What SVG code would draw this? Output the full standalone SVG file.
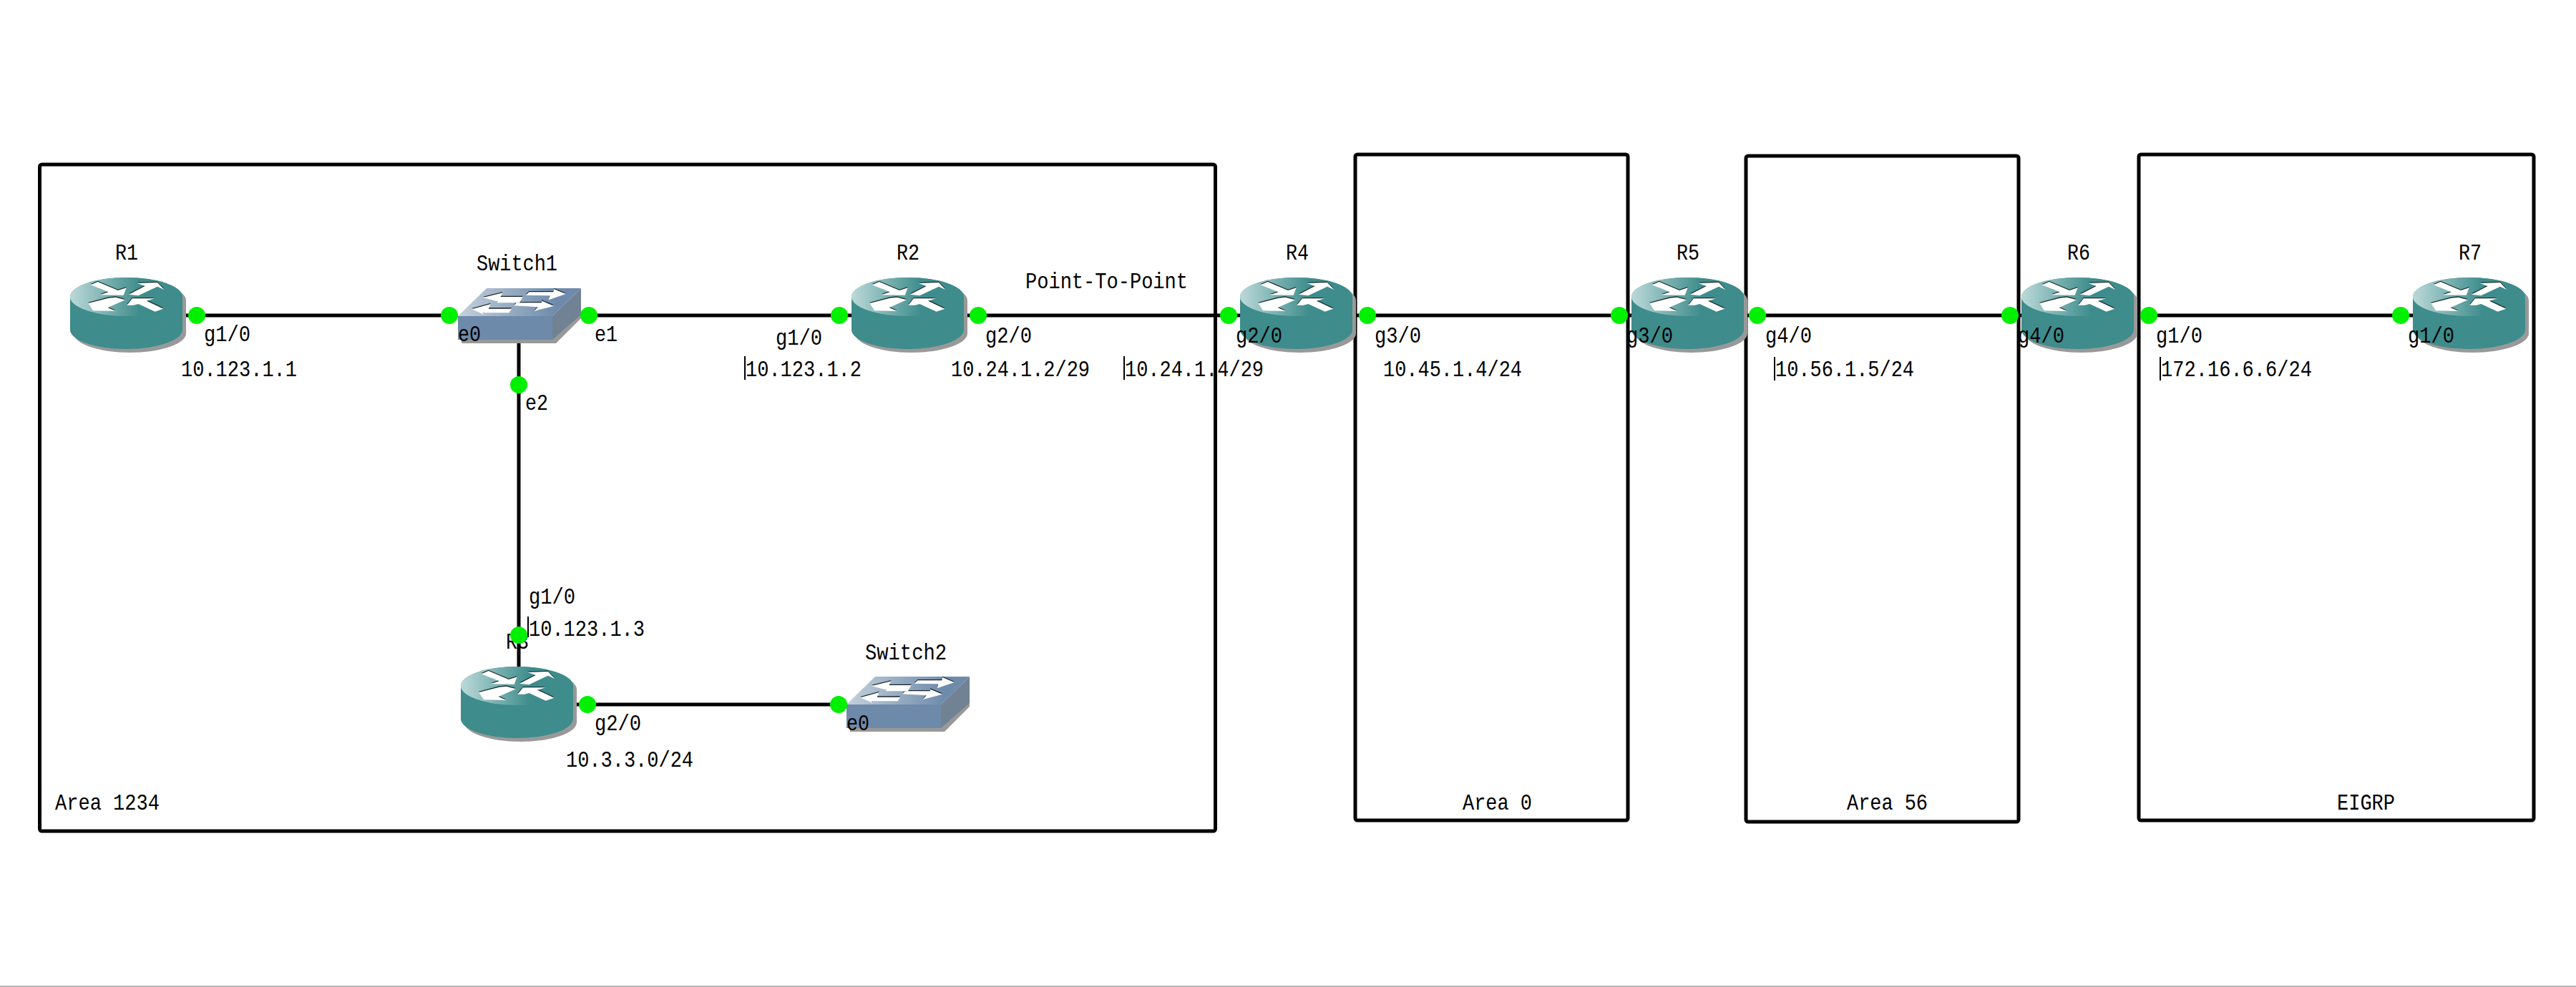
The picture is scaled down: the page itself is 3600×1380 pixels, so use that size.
<svg xmlns="http://www.w3.org/2000/svg" width="3600" height="1380" viewBox="0 0 3600 1380">
<style>
text{font-family:"Liberation Mono","Noto Sans CJK SC",monospace;font-size:32px;fill:#000}
.area{fill:none;stroke:#000;stroke-width:5}
.link{stroke:#000;stroke-width:5;fill:none}
.dot{fill:#00f000}
.bar{stroke:#000;stroke-width:2}
</style>
<defs>
<linearGradient id="rtop" x1="0" x2="1" y1="0" y2="0"><stop offset="0" stop-color="#bcd9d9"/><stop offset=".62" stop-color="#3e8c8c"/></linearGradient>
<linearGradient id="stop" x1="0" x2="1" y1="0" y2="0"><stop offset="0" stop-color="#c4d1dc"/><stop offset=".8" stop-color="#6e8bab"/></linearGradient>
<g id="rarrows">
<polygon points="140,85 170,72 255,108 290,97 278,128 180,127 215,115"/>
<polygon points="300,125 368,90 335,78 420,75 448,105 420,92 340,130"/>
<polygon points="130,162 215,140 245,137 285,148 212,180 245,195 150,193"/>
<polygon points="292,170 315,142 408,142 375,152 445,185 410,197 340,165 320,170"/>
</g>
<g id="router">
<path d="M5 32V78A78.500 27 0 0 0 162 78V32Z M5 32A78.500 27 0 0 1 162 32Z" fill="#999"/>
<path d="M0 27V73A78.500 27 0 0 0 157 73V27A78.500 27 0 0 0 0 27Z" fill="#3e8c8c"/>
<ellipse cx="78.500" cy="27" rx="78.500" ry="27" fill="url(#rtop)"/>
<g transform="translate(-18,-18) scale(.3333)">
<use href="#rarrows" fill="#1c2f2f" transform="translate(0,-4)"/>
<use href="#rarrows" fill="#fff"/>
</g>
</g>
<g id="sarrows">
<polygon points="165,108 248,88 238,105 332,105 318,130 222,130 228,125"/>
<polygon points="345,98 358,85 460,85 462,72 512,93 440,118 445,100"/>
<polygon points="118,157 197,135 188,155 285,155 275,172 165,172 170,180"/>
<polygon points="295,142 305,130 410,130 412,122 462,143 380,165 395,148"/>
</g>
<g id="switch">
<polygon points="5,43 137,43 172,37 172,42 137,77 5,77" fill="#999"/>
<polygon points="40,0 172,0 132,39 0,39" fill="url(#stop)"/>
<rect x="0" y="39" width="132" height="33" fill="#6e8aaa"/>
<polygon points="132,39 172,0 172,37 132,72" fill="#708293"/>
<g transform="translate(-20,-23) scale(.3333)">
<use href="#sarrows" fill="#1b2530" transform="translate(0,-4)"/>
<use href="#sarrows" fill="#fff"/>
</g>
</g>
</defs>
<rect width="3600" height="1380" fill="#fff"/>
<rect x="0" y="1378" width="3600" height="2" fill="#bbb"/>

<g id="areas">
<g id="area1234"><rect class="area" x="55.500" y="230" width="1643" height="932" rx="3"/><text x="77" y="1132" textLength="146" lengthAdjust="spacingAndGlyphs">Area 1234</text></g>
<g id="area0"><rect class="area" x="1894" y="216" width="381" height="931" rx="3"/><text x="2044" y="1132" textLength="97" lengthAdjust="spacingAndGlyphs">Area 0</text></g>
<g id="area56"><rect class="area" x="2440" y="218" width="381" height="931" rx="3"/><text x="2581" y="1132" textLength="113" lengthAdjust="spacingAndGlyphs">Area 56</text></g>
<g id="eigrp"><rect class="area" x="2989" y="216" width="552" height="931" rx="3"/><text x="3266" y="1132" textLength="81" lengthAdjust="spacingAndGlyphs">EIGRP</text></g>
</g>

<g id="connectors">
<path class="link" d="M255 441H640"/>
<path class="link" d="M812 441H1190"/>
<path class="link" d="M725 475V932"/>
<path class="link" d="M801 985H1183"/>
<path class="link" d="M1347 441H1733"/>
<path class="link" d="M1891 441H2280"/>
<path class="link" d="M2437 441H2825"/>
<path class="link" d="M2983 441H3372"/>
</g>

<g id="R1"><use href="#router" x="98" y="388"/><text x="161" y="363" textLength="32" lengthAdjust="spacingAndGlyphs">R1</text></g>
<g id="Switch1"><use href="#switch" x="640" y="403"/><text x="666" y="378" textLength="113" lengthAdjust="spacingAndGlyphs">Switch1</text></g>
<g id="R2"><use href="#router" x="1190" y="388"/><text x="1253" y="363" textLength="32" lengthAdjust="spacingAndGlyphs">R2</text></g>
<g id="R3"><use href="#router" x="644" y="932"/><text x="707" y="907" textLength="32" lengthAdjust="spacingAndGlyphs">R3</text></g>
<g id="Switch2"><use href="#switch" x="1183" y="946"/><text x="1209" y="922" textLength="114" lengthAdjust="spacingAndGlyphs">Switch2</text></g>
<g id="R4"><use href="#router" x="1733" y="388"/><text x="1797" y="363" textLength="32" lengthAdjust="spacingAndGlyphs">R4</text></g>
<g id="R5"><use href="#router" x="2280" y="388"/><text x="2343" y="363" textLength="32" lengthAdjust="spacingAndGlyphs">R5</text></g>
<g id="R6"><use href="#router" x="2825" y="388"/><text x="2889" y="363" textLength="32" lengthAdjust="spacingAndGlyphs">R6</text></g>
<g id="R7"><use href="#router" x="3372" y="388"/><text x="3436" y="363" textLength="32" lengthAdjust="spacingAndGlyphs">R7</text></g>

<g id="ports">
<circle class="dot" cx="275" cy="441" r="12"/><circle class="dot" cx="628" cy="441" r="12"/><circle class="dot" cx="823" cy="441" r="12"/><circle class="dot" cx="725" cy="538" r="12"/>
<circle class="dot" cx="725" cy="888" r="12"/><circle class="dot" cx="821" cy="985" r="12"/><circle class="dot" cx="1172" cy="985" r="12"/>
<circle class="dot" cx="1173" cy="441" r="12"/><circle class="dot" cx="1367" cy="441" r="12"/><circle class="dot" cx="1717" cy="441" r="12"/><circle class="dot" cx="1911" cy="441" r="12"/>
<circle class="dot" cx="2263" cy="441" r="12"/><circle class="dot" cx="2456" cy="441" r="12"/><circle class="dot" cx="2809" cy="441" r="12"/><circle class="dot" cx="3003" cy="441" r="12"/><circle class="dot" cx="3355" cy="441" r="12"/>
</g>

<g id="labels">
<text x="285" y="477" textLength="65" lengthAdjust="spacingAndGlyphs">g1/0</text>
<text x="253" y="526" textLength="162" lengthAdjust="spacingAndGlyphs">10.123.1.1</text>
<text x="640" y="477" textLength="32" lengthAdjust="spacingAndGlyphs">e0</text>
<text x="831" y="477" textLength="32" lengthAdjust="spacingAndGlyphs">e1</text>
<text x="734" y="573" textLength="32" lengthAdjust="spacingAndGlyphs">e2</text>
<text x="739" y="844" textLength="65" lengthAdjust="spacingAndGlyphs">g1/0</text>
<line class="bar" x1="738" y1="862" x2="738" y2="891"/>
<text x="739" y="889" textLength="162" lengthAdjust="spacingAndGlyphs">10.123.1.3</text>
<text x="1183" y="1021" textLength="32" lengthAdjust="spacingAndGlyphs">e0</text>
<text x="831" y="1021" textLength="65" lengthAdjust="spacingAndGlyphs">g2/0</text>
<text x="791" y="1072" textLength="178" lengthAdjust="spacingAndGlyphs">10.3.3.0/24</text>
<text x="1084" y="482" textLength="65" lengthAdjust="spacingAndGlyphs">g1/0</text>
<line class="bar" x1="1041" y1="498" x2="1041" y2="531"/>
<text x="1042" y="526" textLength="162" lengthAdjust="spacingAndGlyphs">10.123.1.2</text>
<text x="1377" y="479" textLength="65" lengthAdjust="spacingAndGlyphs">g2/0</text>
<text x="1329" y="526" textLength="194" lengthAdjust="spacingAndGlyphs">10.24.1.2/29</text>
<text x="1433" y="403" textLength="227" lengthAdjust="spacingAndGlyphs">Point-To-Point</text>
<line class="bar" x1="1571" y1="498" x2="1571" y2="531"/>
<text x="1572" y="526" textLength="194" lengthAdjust="spacingAndGlyphs">10.24.1.4/29</text>
<text x="1727" y="479" textLength="65" lengthAdjust="spacingAndGlyphs">g2/0</text>
<text x="1921" y="479" textLength="65" lengthAdjust="spacingAndGlyphs">g3/0</text>
<text x="1933" y="526" textLength="194" lengthAdjust="spacingAndGlyphs">10.45.1.4/24</text>
<text x="2273" y="479" textLength="65" lengthAdjust="spacingAndGlyphs">g3/0</text>
<text x="2467" y="479" textLength="65" lengthAdjust="spacingAndGlyphs">g4/0</text>
<line class="bar" x1="2480" y1="499" x2="2480" y2="532"/>
<text x="2481" y="526" textLength="194" lengthAdjust="spacingAndGlyphs">10.56.1.5/24</text>
<text x="2820" y="479" textLength="65" lengthAdjust="spacingAndGlyphs">g4/0</text>
<text x="3013" y="479" textLength="65" lengthAdjust="spacingAndGlyphs">g1/0</text>
<line class="bar" x1="3019" y1="499" x2="3019" y2="532"/>
<text x="3020" y="526" textLength="211" lengthAdjust="spacingAndGlyphs">172.16.6.6/24</text>
<text x="3365" y="479" textLength="65" lengthAdjust="spacingAndGlyphs">g1/0</text>
</g>
</svg>
